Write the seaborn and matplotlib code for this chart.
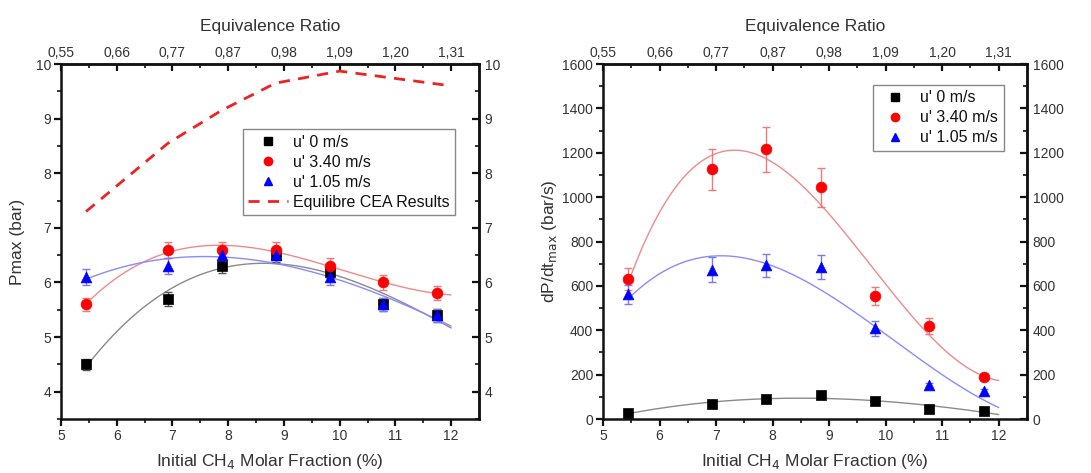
import numpy as np
import pandas as pd
import matplotlib
matplotlib.use("Agg")
import matplotlib.pyplot as plt
import seaborn as sns
from matplotlib.lines import Line2D

# --- data -----------------------------------------------------------------
ch4 = [5.45, 6.92, 7.88, 8.85, 9.82, 10.77, 11.74]
eq_ratio_labels = ["0,55", "0,66", "0,77", "0,87", "0,98", "1,09", "1,20", "1,31"]

pmax_u0 = [4.5, 5.7, 6.3, 6.5, 6.2, 5.6, 5.4]
pmax_u340 = [5.6, 6.6, 6.6, 6.6, 6.3, 6.0, 5.8]
pmax_u105 = [6.1, 6.3, 6.5, 6.5, 6.1, 5.6, 5.4]
pmax_err_u0 = [0.10, 0.13, 0.13, 0.13, 0.12, 0.12, 0.12]
pmax_err_u340 = [0.12, 0.15, 0.15, 0.15, 0.14, 0.13, 0.13]
pmax_err_u105 = [0.14, 0.15, 0.14, 0.14, 0.14, 0.12, 0.12]

cea_x = [5.45, 6.92, 7.88, 8.85, 10.0, 12.0]
cea_pmax = [7.3, 8.55, 9.15, 9.65, 9.87, 9.6]

dpdt_u0 = [27, 68, 89, 108, 83, 47, 36]
dpdt_u340 = [630, 1125, 1215, 1045, 555, 420, 190]
dpdt_u105 = [562, 673, 692, 686, 408, 154, 124]
dpdt_err_u0 = [5, 6, 6, 6, 6, 5, 5]
dpdt_err_u340 = [50, 93, 100, 88, 42, 35, 15]
dpdt_err_u105 = [43, 55, 53, 54, 34, 10, 10]

labels = ["u' 0 m/s", "u' 3.40 m/s", "u' 1.05 m/s"]
markers = ["s", "o", "^"]
colors = ["#000000", "#ff0000", "#0000ff"]
fit_colors = ["#8a8a8a", "#f08a8a", "#8a8aff"]
err_colors = ["#555555", "#f07a7a", "#7a7af0"]

# --- style ----------------------------------------------------------------
sns.set_theme(style="ticks")
plt.rcParams["font.family"] = ["Liberation Sans", "DejaVu Sans"]
text_col = "#333333"

fig = plt.figure(figsize=(10.91, 4.73), dpi=100)
axL = fig.add_axes([61 / 1091, 54 / 473, 418 / 1091, 355 / 473])
axR = fig.add_axes([603 / 1091, 54 / 473, 424 / 1091, 355 / 473])


def draw_panel(ax, series, errs, fit_deg):
    fit_x = np.linspace(ch4[0], 12.0, 200)
    for k, (vals, err) in enumerate(zip(series, errs)):
        coef = np.polyfit(ch4, vals, fit_deg)
        fit_df = pd.DataFrame({"x": fit_x, "y": np.polyval(coef, fit_x)})
        sns.lineplot(data=fit_df, x="x", y="y", ax=ax, color=fit_colors[k],
                     lw=1.0, zorder=2, legend=False)
    for k, (vals, err) in enumerate(zip(series, errs)):
        ax.errorbar(ch4, vals, yerr=err, fmt="none", ecolor=err_colors[k],
                    elinewidth=1.0, capsize=3, capthick=1.0, zorder=3)
        df = pd.DataFrame({"x": ch4, "y": vals})
        sns.scatterplot(data=df, x="x", y="y", ax=ax, marker=markers[k],
                        color=colors[k], s=60, edgecolor=colors[k],
                        linewidth=0.5, zorder=4, legend=False)


def style_axes(ax, ymin, ymax, ymajor, yminor):
    ax.set_xlim(5, 12.5)
    ax.set_ylim(ymin, ymax)
    ax.set_xticks(np.arange(5, 13, 1))
    ax.set_xticks(np.arange(5.5, 12.5, 1), minor=True)
    ax.set_yticks(ymajor)
    ax.set_yticks(yminor, minor=True)
    for s in ax.spines.values():
        s.set_linewidth(1.8)
        s.set_color("#111111")
    ax.tick_params(which="major", direction="out", length=5, width=1.6,
                   labelsize=10, labelcolor=text_col, color="#111111", pad=2)
    ax.tick_params(which="minor", direction="out", length=3, width=1.2,
                   color="#111111")
    ax.set_xlabel("Initial CH$_4$ Molar Fraction (%)", fontsize=12.5,
                  color=text_col, labelpad=7)

    top = ax.secondary_xaxis("top")
    top.set_xticks(np.arange(5, 13, 1), labels=eq_ratio_labels)
    top.set_xticks(np.arange(5.5, 12.5, 1), minor=True)
    top.tick_params(which="major", direction="in", length=5, width=1.6,
                    labelsize=10, labelcolor=text_col, color="#111111", pad=3)
    top.tick_params(which="minor", direction="in", length=3, width=1.2,
                    color="#111111")
    top.set_xlabel("Equivalence Ratio", fontsize=12.5, color=text_col,
                   labelpad=11)
    top.spines["top"].set_linewidth(1.8)

    right = ax.secondary_yaxis("right")
    right.set_yticks(ymajor)
    right.set_yticks(yminor, minor=True)
    right.tick_params(which="major", direction="in", length=5, width=1.6,
                      labelsize=10, labelcolor=text_col, color="#111111",
                      pad=4)
    right.tick_params(which="minor", direction="in", length=3, width=1.2,
                      color="#111111")
    right.spines["right"].set_linewidth(1.8)


# --- left panel: maximum pressure ------------------------------------------
draw_panel(axL, [pmax_u0, pmax_u340, pmax_u105],
           [pmax_err_u0, pmax_err_u340, pmax_err_u105], 3)
cea_df = pd.DataFrame({"x": cea_x, "y": cea_pmax})
sns.lineplot(data=cea_df, x="x", y="y", ax=axL, color="#ee2222", lw=2.0,
             zorder=3, legend=False)
axL.lines[-1].set_linestyle((0, (4, 3)))
style_axes(axL, 3.5, 10, np.arange(4, 11, 1), np.arange(3.5, 10.5, 1))
axL.set_ylabel("Pmax (bar)", fontsize=12.5, color=text_col, labelpad=8)

handles = [Line2D([], [], ls="none", marker=m, color=c, markersize=6)
           for m, c in zip(markers, colors)]
handles.append(Line2D([], [], color="#ee2222", lw=2.0, ls=(0, (4, 3))))
legL = axL.legend(handles, labels + ["Equilibre CEA Results"],
                  loc="upper right", bbox_to_anchor=(0.943, 0.817),
                  fontsize=11.5, frameon=True, fancybox=False, framealpha=1,
                  edgecolor="#888888", borderpad=0.35, labelspacing=0.32,
                  handlelength=2.5, handletextpad=0.3, borderaxespad=0)
legL.get_frame().set_linewidth(1.0)
for t in legL.get_texts():
    t.set_color("#111111")

# --- right panel: maximum rate of pressure rise ------------------------------
draw_panel(axR, [dpdt_u0, dpdt_u340, dpdt_u105],
           [dpdt_err_u0, dpdt_err_u340, dpdt_err_u105], 3)
style_axes(axR, 0, 1600, np.arange(0, 1601, 200), np.arange(100, 1600, 200))
axR.set_ylabel("dP/dt$_{\\mathrm{max}}$ (bar/s)", fontsize=12.5,
               color=text_col, labelpad=2)

handlesR = [Line2D([], [], ls="none", marker=m, color=c, markersize=6)
            for m, c in zip(markers, colors)]
legR = axR.legend(handlesR, labels, loc="upper right",
                  bbox_to_anchor=(0.945, 0.942), fontsize=11.5, frameon=True,
                  fancybox=False, framealpha=1, edgecolor="#888888",
                  borderpad=0.35, labelspacing=0.32, handlelength=2.0,
                  handletextpad=0.6, borderaxespad=0)
legR.get_frame().set_linewidth(1.0)
for t in legR.get_texts():
    t.set_color("#111111")

fig.savefig("out.png", dpi=100)
